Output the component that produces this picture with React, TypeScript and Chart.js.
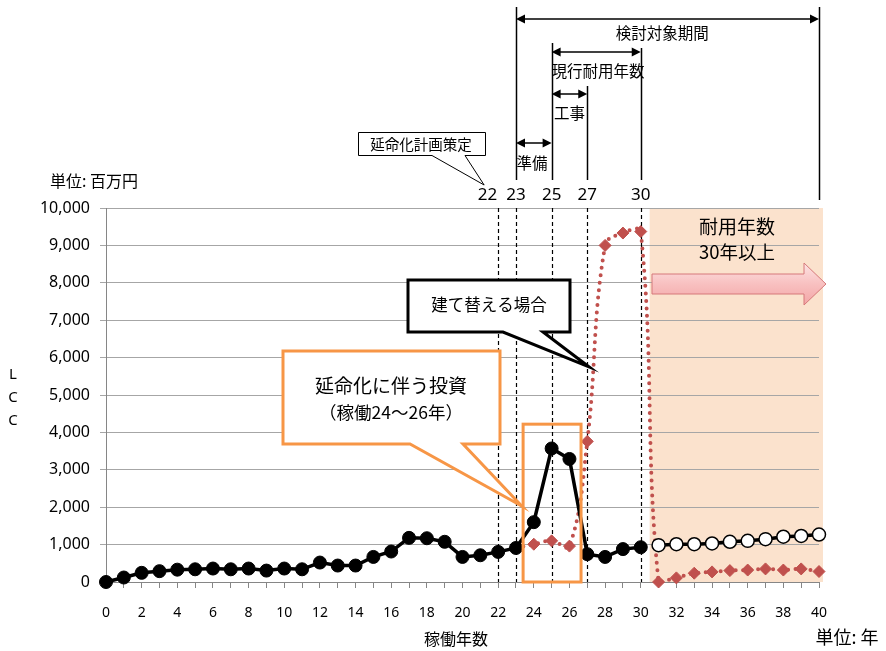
import React, { useEffect, useRef } from 'react';
import { Chart, registerables } from 'chart.js';

Chart.register(...registerables);

// ---- data ----
const yearsExtend = [0, 1, 2, 3, 4, 5, 6, 7, 8, 9, 10, 11, 12, 13, 14, 15, 16, 17, 18, 19, 20, 21, 22, 23, 24, 25, 26, 27, 28, 29, 30];
const lccExtend = [0, 120, 245, 290, 330, 340, 360, 340, 360, 305, 360, 340, 520, 440, 440, 670, 815, 1180, 1170, 1075, 670, 715, 805, 910, 1600, 3570, 3290, 745, 670, 880, 930];
const yearsAfter = [31, 32, 33, 34, 35, 36, 37, 38, 39, 40];
const lccAfter = [985, 1010, 1010, 1030, 1075, 1100, 1145, 1210, 1230, 1270];
const yearsRebuild = [23, 24, 25, 26, 27, 28, 29, 30, 31, 32, 33, 34, 35, 36, 37, 38, 39, 40];
const lccRebuild = [910, 1010, 1100, 960, 3760, 9000, 9330, 9370, 0, 110, 235, 270, 305, 320, 350, 320, 350, 280];

const milestoneYears = [22, 23, 25, 27, 30];
const milestoneLabels = ['22', '23', '25', '27', '30'];
const xMin = 0;
const xMax = 40;
const yMin = 0;
const yMax = 10000;
const yStep = 1000;
const shadeFrom = 30.5;
const investFrom = 23.4;
const investTo = 26.65;
const investTop = 4220;

const JP = "'Noto Sans CJK JP', 'Noto Sans', sans-serif";
const LAT = "'Noto Sans', 'DejaVu Sans', sans-serif";

function doubleArrow(ctx: CanvasRenderingContext2D, x1: number, x2: number, y: number) {
  ctx.save();
  ctx.strokeStyle = '#000';
  ctx.fillStyle = '#000';
  ctx.lineWidth = 1.5;
  const h = 9;
  const w = 4.5;
  ctx.beginPath();
  ctx.moveTo(x1 + h - 1, y);
  ctx.lineTo(x2 - h + 1, y);
  ctx.stroke();
  ctx.beginPath();
  ctx.moveTo(x1, y);
  ctx.lineTo(x1 + h, y - w);
  ctx.lineTo(x1 + h, y + w);
  ctx.closePath();
  ctx.fill();
  ctx.beginPath();
  ctx.moveTo(x2, y);
  ctx.lineTo(x2 - h, y - w);
  ctx.lineTo(x2 - h, y + w);
  ctx.closePath();
  ctx.fill();
  ctx.restore();
}

function callout(
  ctx: CanvasRenderingContext2D,
  l: number, t: number, r: number, b: number,
  w1: number, w2: number, tx: number, ty: number,
  color: string, lw: number
) {
  ctx.save();
  ctx.beginPath();
  ctx.moveTo(l, t);
  ctx.lineTo(r, t);
  ctx.lineTo(r, b);
  ctx.lineTo(w2, b);
  ctx.lineTo(tx, ty);
  ctx.lineTo(w1, b);
  ctx.lineTo(l, b);
  ctx.closePath();
  ctx.fillStyle = '#fff';
  ctx.fill();
  ctx.lineWidth = lw;
  ctx.strokeStyle = color;
  ctx.lineJoin = 'miter';
  ctx.stroke();
  ctx.restore();
}

function text(ctx: CanvasRenderingContext2D, s: string, x: number, y: number, size: number, family = JP, align: CanvasTextAlign = 'center') {
  ctx.save();
  ctx.fillStyle = '#000';
  ctx.font = `${size}px ${family}`;
  ctx.textAlign = align;
  ctx.textBaseline = 'middle';
  ctx.fillText(s, x, y);
  ctx.restore();
}

const annotationPlugin = {
  id: 'lccAnnotations',
  beforeDraw(chart: any) {
    const { ctx, chartArea, scales } = chart;
    const l = scales.x.getPixelForValue(shadeFrom);
    ctx.save();
    ctx.fillStyle = '#fbe2cd';
    ctx.fillRect(l, chartArea.top, chartArea.right + 4 - l, chartArea.bottom - chartArea.top);
    ctx.restore();
  },
  beforeDatasetsDraw(chart: any) {
    const { ctx, chartArea, scales } = chart;
    ctx.save();
    ctx.strokeStyle = '#000';
    ctx.lineWidth = 1.2;
    ctx.setLineDash([4, 3]);
    milestoneYears.forEach((v) => {
      const px = Math.round(scales.x.getPixelForValue(v)) + 0.5;
      ctx.beginPath();
      ctx.moveTo(px, chartArea.top);
      ctx.lineTo(px, chartArea.bottom);
      ctx.stroke();
    });
    ctx.restore();
  },
  afterDatasetsDraw(chart: any) {
    const { ctx, scales } = chart;
    const px = (v: number) => scales.x.getPixelForValue(v);
    const py = (v: number) => scales.y.getPixelForValue(v);

    // investment rectangle
    ctx.save();
    ctx.strokeStyle = '#f79646';
    ctx.lineWidth = 3;
    ctx.strokeRect(px(investFrom), py(investTop), px(investTo) - px(investFrom), py(0) - py(investTop));
    ctx.restore();

    // vertical solid lines above chart
    const tops: [number, number, number][] = [
      [23, 7, 180],
      [25, 43, 180],
      [27, 86, 180],
      [30, 48, 180],
      [40, 7, 200],
    ];
    ctx.save();
    ctx.strokeStyle = '#000';
    ctx.lineWidth = 1.5;
    tops.forEach(([v, y1, y2]) => {
      const x = Math.round(px(v)) + 0.5;
      ctx.beginPath();
      ctx.moveTo(x, y1);
      ctx.lineTo(x, y2);
      ctx.stroke();
    });
    ctx.restore();

    doubleArrow(ctx, px(23), px(40), 19);
    doubleArrow(ctx, px(25), px(30), 52);
    doubleArrow(ctx, px(25), px(27), 94);
    doubleArrow(ctx, px(23), px(25), 143);

    text(ctx, '検討対象期間', px(31.2), 33, 15.5);
    text(ctx, '現行耐用年数', px(27.6), 71, 15.5);
    text(ctx, '工事', px(26), 113, 15.5);
    text(ctx, '準備', px(23.9), 163, 15.5);

    milestoneYears.forEach((v, i) => {
      if (i === 0) text(ctx, milestoneLabels[i], px(v) - 1, 195, 17, LAT, 'right');
      else text(ctx, milestoneLabels[i], px(v), 195, 17, LAT, 'center');
    });

    // callout: 延命化計画策定
    callout(ctx, 358.5, 132.5, 485.5, 155.5, 432, 465, px(22) - 14, 185, '#000', 1);
    text(ctx, '延命化計画策定', 421, 144, 14.5);

    // callout: 建て替える場合
    callout(ctx, 408, 280, 570, 332, 503, 543, px(27.1), py(5750), '#000', 3);
    text(ctx, '建て替える場合', 489, 305, 16.5);

    // callout: 延命化に伴う投資
    callout(ctx, 283, 351, 500, 444, 410, 463, px(23.32), py(2030), '#f79646', 3);
    text(ctx, '延命化に伴う投資', 391, 386, 19);
    text(ctx, '（稼働24～26年）', 391, 412, 17.5);

    // right region labels
    text(ctx, '耐用年数', 737, 227, 19);
    text(ctx, '30年以上', 737, 252, 18.5);

    // pink arrow
    ctx.save();
    const g = ctx.createLinearGradient(0, 263, 0, 305);
    g.addColorStop(0, '#fde3e3');
    g.addColorStop(0.5, '#f8c0c0');
    g.addColorStop(1, '#f3a6a6');
    ctx.beginPath();
    ctx.moveTo(652, 274);
    ctx.lineTo(804, 274);
    ctx.lineTo(804, 263);
    ctx.lineTo(826, 284);
    ctx.lineTo(804, 305);
    ctx.lineTo(804, 294);
    ctx.lineTo(652, 294);
    ctx.closePath();
    ctx.fillStyle = g;
    ctx.fill();
    ctx.strokeStyle = '#d6797a';
    ctx.lineWidth = 1;
    ctx.stroke();
    ctx.restore();

    // axis titles and units
    text(ctx, '単位: 百万円', 94, 181, 16);
    text(ctx, 'L', 13, 375, 15, LAT);
    text(ctx, 'C', 13, 398, 15, LAT);
    text(ctx, 'C', 13, 421, 15, LAT);
    text(ctx, '稼働年数', 456, 639, 16);
    text(ctx, '単位: 年', 847, 637, 18);
  },
};

export default function App() {
  const ref = useRef<HTMLCanvasElement | null>(null);

  useEffect(() => {
    if (!ref.current) return;
    const chart = new Chart(ref.current, {
      type: 'line',
      data: {
        datasets: [
          {
            label: '延命化',
            data: yearsExtend.map((x, i) => ({ x, y: lccExtend[i] })),
            borderColor: '#000',
            backgroundColor: '#000',
            borderWidth: 3.5,
            pointRadius: 6.5,
            pointBackgroundColor: '#000',
            pointBorderColor: '#000',
            pointBorderWidth: 1,
            tension: 0,
            clip: false as any,
            order: 0,
          },
          {
            label: '延命化後',
            data: yearsAfter.map((x, i) => ({ x, y: lccAfter[i] })),
            borderColor: '#000',
            backgroundColor: '#fff',
            borderWidth: 3.5,
            pointRadius: 6.5,
            pointBackgroundColor: '#fff',
            pointBorderColor: '#000',
            pointBorderWidth: 1.5,
            tension: 0,
            clip: false as any,
            order: 1,
          },
          {
            label: '建て替え',
            data: yearsRebuild.map((x, i) => ({ x, y: lccRebuild[i] })),
            borderColor: '#c0504d',
            backgroundColor: '#c0504d',
            borderWidth: 4,
            borderDash: [0, 7.5],
            borderCapStyle: 'round',
            pointStyle: 'rectRot',
            pointRadius: 6,
            pointBackgroundColor: '#c0504d',
            pointBorderColor: '#c0504d',
            pointBorderWidth: 1,
            tension: 0.4,
            clip: 10 as any,
            order: 2,
          },
        ],
      },
      options: {
        animation: false,
        responsive: false,
        events: [],
        layout: { padding: { top: 208, right: 67, left: 0, bottom: 0 } },
        plugins: { legend: { display: false }, tooltip: { enabled: false } },
        scales: {
          x: {
            type: 'linear',
            min: xMin,
            max: xMax,
            afterFit: (s: any) => { s.height = 69; },
            border: { color: '#868686', width: 1 },
            grid: { drawOnChartArea: false, drawTicks: true, tickLength: 6, color: '#868686' },
            ticks: {
              stepSize: 1,
              autoSkip: false,
              maxRotation: 0,
              padding: 17,
              color: '#000',
              font: { family: LAT, size: 14 },
              callback: (v: any) => (Number(v) % 2 === 0 ? String(v) : ''),
            },
          },
          y: {
            min: yMin,
            max: yMax,
            afterFit: (s: any) => { s.width = 106; },
            border: { color: '#868686', width: 1 },
            grid: { color: '#a6a6a6', tickLength: 6 },
            ticks: {
              stepSize: yStep,
              padding: 10,
              color: '#000',
              font: { family: LAT, size: 16 },
              callback: (v: any) => Number(v).toLocaleString('en-US'),
            },
          },
        },
      },
      plugins: [annotationPlugin],
    });
    return () => chart.destroy();
  }, []);

  return (
    <div style={{ position: 'absolute', left: 0, top: 0, width: 886, height: 651 }}>
      <canvas ref={ref} width={886} height={651} style={{ display: 'block', width: 886, height: 651 }} />
    </div>
  );
}
